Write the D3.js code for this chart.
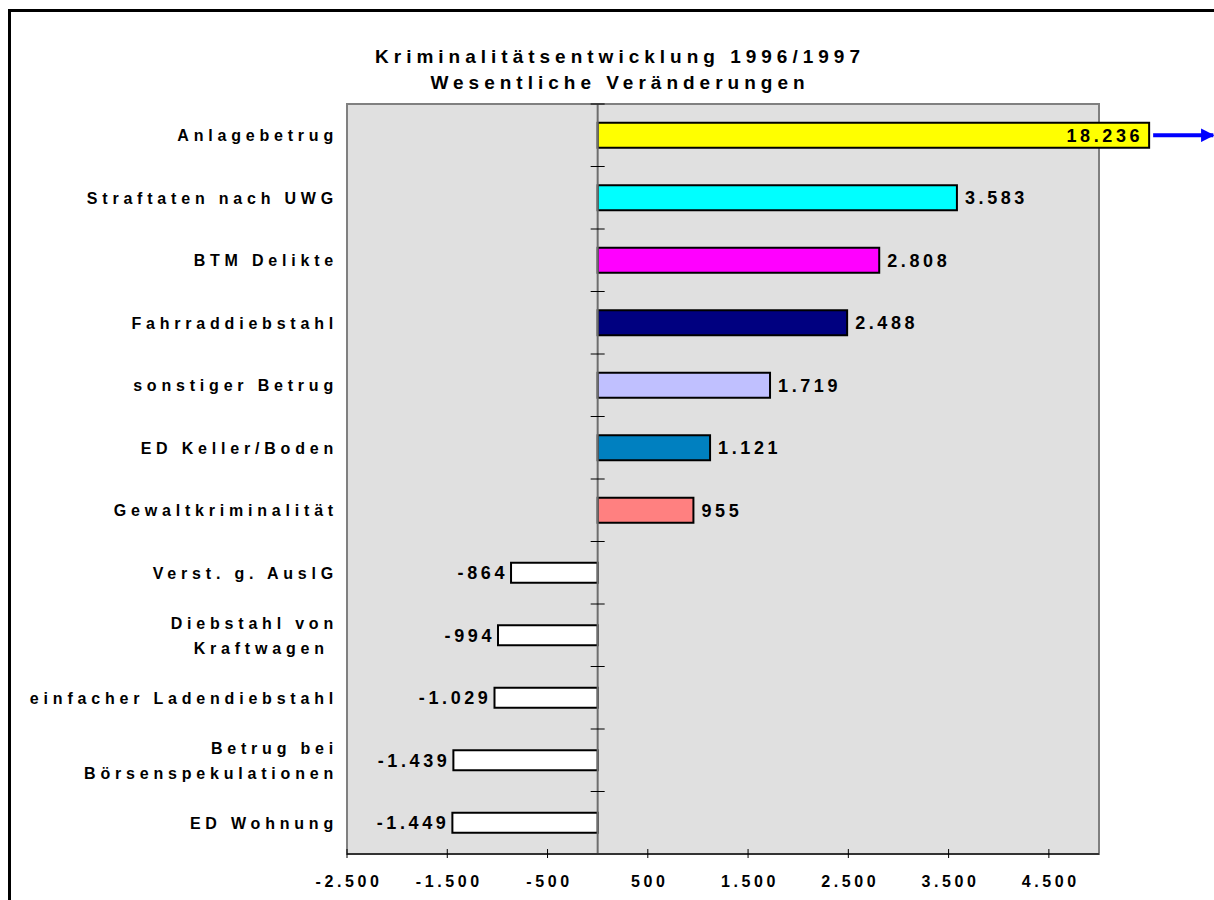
<!DOCTYPE html>
<head>
    <meta charset="utf-8">
    <title>Kriminalitätsentwicklung 1996/1997</title>
    <script src="https://d3js.org/d3.v7.min.js"></script>
    <style>
        body { margin: 0; background: #fff; }
        svg text { font-family: Arial, "Liberation Sans", sans-serif; font-weight: bold; fill: #000; }
    </style>
</head>
<body>
    <div id="container"></div>
    <script>
        //-----------------------------DATA-----------------------------//
        var titleLines = ["Kriminalitätsentwicklung 1996/1997", "Wesentliche Veränderungen"];
        var categories = ["Anlagebetrug", "Straftaten nach UWG", "BTM Delikte", "Fahrraddiebstahl",
            "sonstiger Betrug", "ED Keller/Boden", "Gewaltkriminalität", "Verst. g. AuslG",
            "Diebstahl von\nKraftwagen ", "einfacher Ladendiebstahl", "Betrug bei\nBörsenspekulationen", "ED Wohnung"];
        var changes = [18236, 3583, 2808, 2488, 1719, 1121, 955, -864, -994, -1029, -1439, -1449];
        var barColors = ["#ffff00", "#00ffff", "#ff00ff", "#000080", "#c0c0ff", "#0080c0", "#ff8080",
            "#ffffff", "#ffffff", "#ffffff", "#ffffff", "#ffffff"];
        var tickValues = [-2500, -1500, -500, 500, 1500, 2500, 3500, 4500];
        var xDomain = [-2500, 5000];
        var capValue = 5500; // bars beyond the axis are cut here and get an arrow

        //------------------------PREPARATION---------------------------//
        var W = 1214, H = 900;
        var margin = { top: 104, right: 115, bottom: 46, left: 347 };
        var width = W - margin.left - margin.right,
            height = H - margin.top - margin.bottom;

        var de = d3.formatLocale({ decimal: ",", thousands: ".", grouping: [3], currency: ["", " €"], minus: "-" });
        var fmt = de.format(",d");

        var x = d3.scaleLinear().domain(xDomain).range([0, width]);
        var y = d3.scaleBand().domain(categories).range([0, height]).paddingInner(0.6).paddingOuter(0.3);
        var step = y.step();

        var svg = d3.select("#container").append("svg")
            .attr("width", W).attr("height", H);

        // outer frame
        svg.append("rect")
            .attr("x", 9.5).attr("y", 10.5)
            .attr("width", W + 20).attr("height", H + 20)
            .style("fill", "none").style("stroke", "#000").style("stroke-width", 3);

        // title
        svg.append("g").selectAll("text")
            .data(titleLines).enter().append("text")
            .attr("x", 620).attr("y", function (d, i) { return 63 + i * 26; })
            .attr("text-anchor", "middle")
            .style("font-size", "19px").style("letter-spacing", "5px")
            .text(function (d) { return d; });

        var g = svg.append("g").attr("transform", "translate(" + margin.left + "," + margin.top + ")");

        // plot area
        g.append("rect")
            .attr("width", width).attr("height", height)
            .style("fill", "#e0e0e0").style("stroke", "#808080").style("stroke-width", 2);

        //-----------------------------BARS-----------------------------//
        function bandCenter(d) { return y(d) + y.bandwidth() / 2; }
        function barH(i) { return changes[i] < 0 ? y.bandwidth() * 0.8 : y.bandwidth(); }

        g.selectAll(".bar")
            .data(categories).enter().append("rect")
            .attr("class", "bar")
            .attr("x", function (d, i) { return x(Math.min(0, changes[i])); })
            .attr("y", function (d, i) { return bandCenter(d) - barH(i) / 2; })
            .attr("width", function (d, i) { return Math.abs(x(Math.min(changes[i], capValue)) - x(0)); })
            .attr("height", function (d, i) { return barH(i); })
            .style("fill", function (d, i) { return barColors[i]; })
            .style("stroke", "#000").style("stroke-width", 2);

        // zero line with category ticks
        g.append("line")
            .attr("x1", x(0)).attr("x2", x(0)).attr("y1", 0).attr("y2", height)
            .style("stroke", "#6e6e6e").style("stroke-width", 2);

        g.selectAll(".ytick")
            .data(d3.range(categories.length + 1)).enter().append("line")
            .attr("x1", x(0) - 7).attr("x2", x(0) + 7)
            .attr("y1", function (i) { return i * step; }).attr("y2", function (i) { return i * step; })
            .style("stroke", "#000").style("stroke-width", 1);

        // value labels
        g.selectAll(".val")
            .data(categories).enter().append("text")
            .attr("class", "val")
            .attr("x", function (d, i) {
                var v = changes[i];
                if (v > capValue) return x(capValue) - 6;
                return v < 0 ? x(v) - 3 : x(v) + 8;
            })
            .attr("y", function (d) { return bandCenter(d) + 6.5; })
            .attr("text-anchor", function (d, i) { return changes[i] < 0 || changes[i] > capValue ? "end" : "start"; })
            .style("font-size", "18px").style("letter-spacing", "3.6px")
            .text(function (d, i) { return fmt(changes[i]); });

        // arrow for cut bar
        var marker = svg.append("defs").append("marker")
            .attr("id", "arrow").attr("viewBox", "0 0 10 10")
            .attr("refX", 9).attr("refY", 5)
            .attr("markerWidth", 4.5).attr("markerHeight", 3.4).attr("orient", "auto")
            .attr("markerUnits", "strokeWidth");
        marker.append("path").attr("d", "M0,0L10,5L0,10z").style("fill", "#0000ff");

        g.selectAll(".cut")
            .data(categories.filter(function (d, i) { return changes[i] > capValue; })).enter().append("line")
            .attr("x1", x(capValue + 40)).attr("x2", x(capValue + 640))
            .attr("y1", bandCenter).attr("y2", bandCenter)
            .style("stroke", "#0000ff").style("stroke-width", 4)
            .attr("marker-end", "url(#arrow)");

        // category labels
        var cat = g.selectAll(".cat")
            .data(categories).enter().append("text")
            .attr("class", "cat")
            .attr("text-anchor", "end")
            .style("font-size", "16px").style("letter-spacing", "4.8px")
            .style("white-space", "pre");
        cat.each(function (d) {
            var lines = d.split("\n");
            var t = d3.select(this);
            lines.forEach(function (l, k) {
                t.append("tspan")
                    .attr("x", -9)
                    .attr("y", bandCenter(d) + 6 + (k - (lines.length - 1) / 2) * 25)
                    .text(l);
            });
        });

        //-----------------------------AXIS-----------------------------//
        var xAxis = g.append("g").attr("transform", "translate(0," + height + ")");
        xAxis.append("line")
            .attr("x1", 0).attr("x2", width)
            .style("stroke", "#333").style("stroke-width", 2);
        xAxis.selectAll(".xt")
            .data(tickValues).enter().append("line")
            .attr("x1", x).attr("x2", x).attr("y1", -5).attr("y2", 4)
            .style("stroke", "#000").style("stroke-width", 1);
        xAxis.selectAll(".xl")
            .data(tickValues).enter().append("text")
            .attr("x", function (d) { return x(d) + 2; }).attr("y", 33)
            .attr("text-anchor", "middle")
            .style("font-size", "16px").style("letter-spacing", "3.6px")
            .text(fmt);
    </script>
</body>
